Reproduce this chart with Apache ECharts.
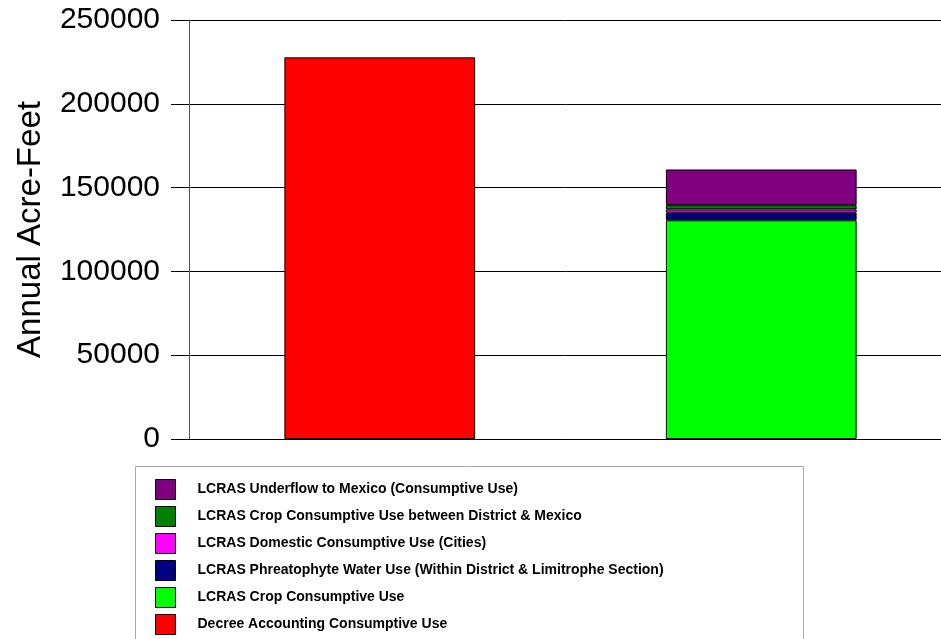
<!DOCTYPE html>
<html>
<head>
<meta charset="utf-8">
<script src="https://cdn.jsdelivr.net/npm/echarts@6/dist/echarts.min.js"></script>
<style>
  html, body { margin: 0; padding: 0; background: #fff; }
  #chart { width: 941px; height: 639px; }
</style>
</head>
<body>
<div id="chart"></div>
<script>
const categories = ['Decree Accounting', 'LCRAS'];
const yTicks = [0, 50000, 100000, 150000, 200000, 250000];

const seriesNames = [
  'LCRAS Underflow to Mexico (Consumptive Use)',
  'LCRAS Crop Consumptive Use between District & Mexico',
  'LCRAS Domestic Consumptive Use (Cities)',
  'LCRAS Phreatophyte Water Use (Within District & Limitrophe Section)',
  'LCRAS Crop Consumptive Use',
  'Decree Accounting Consumptive Use',
];
const seriesColors = ['#800080', '#008000', '#ff00ff', '#000080', '#00ff00', '#ff0000'];

// values per category [Decree, LCRAS]
const decree = [227700, null];
const cropUse = [null, 130500];
const phreatophyte = [null, 4500];
const domestic = [null, 2000];
const cropMexico = [null, 2500];
const underflow = [null, 21300];

const chart = echarts.init(document.getElementById('chart'));

// stacking order bottom -> top
const stackData = [
  [seriesNames[5], decree, seriesColors[5]],
  [seriesNames[4], cropUse, seriesColors[4]],
  [seriesNames[3], phreatophyte, seriesColors[3]],
  [seriesNames[2], domestic, seriesColors[2]],
  [seriesNames[1], cropMexico, seriesColors[1]],
  [seriesNames[0], underflow, seriesColors[0]],
];

const option = {
  animation: false,
  textStyle: { fontFamily: 'Liberation Sans, Arial, sans-serif' },
  grid: {
    left: 189, right: -11, top: 20, bottom: 200,
    containLabel: false, outerBoundsMode: 'none',
  },
  legend: {
    orient: 'vertical',
    left: 150,
    top: 474,
    height: 300,
    icon: 'rect',
    itemWidth: 20,
    itemHeight: 20,
    itemGap: 6,
    data: seriesNames,
    textStyle: {
      fontSize: 14,
      fontWeight: 'bold',
      color: '#000',
      lineHeight: 20,
      padding: [0, 0, 0, 17],
    },
    itemStyle: { borderColor: '#000', borderWidth: 1 },
  },
  graphic: [{
    type: 'rect',
    shape: { x: 135.5, y: 466.5, width: 668, height: 200 },
    style: { fill: 'none', stroke: '#aaa', lineWidth: 1 },
    z: -1,
  }],
  xAxis: {
    type: 'category',
    data: categories,
    axisLine: { lineStyle: { color: '#000', width: 1 } },
    axisTick: { alignWithLabel: true, length: 14, lineStyle: { color: '#000' } },
    axisLabel: { show: false },
  },
  yAxis: {
    type: 'value',
    min: 0,
    max: 250000,
    interval: 50000,
    name: 'Annual Acre-Feet',
    nameLocation: 'middle',
    nameGap: 142,
    nameTextStyle: { fontSize: 33, color: '#000' },
    axisLine: { show: true, lineStyle: { color: '#555', width: 1 } },
    axisTick: { show: true, length: 18, lineStyle: { color: '#000' } },
    axisLabel: {
      fontSize: 30, color: '#000', margin: 29,
      formatter: (v) => String(v),
    },
    splitLine: { lineStyle: { color: '#000', width: 1 } },
  },
  series: stackData.map(([name, data, color]) => ({
    name,
    type: 'bar',
    stack: 'total',
    barWidth: '50%',
    data,
    itemStyle: { color, borderColor: '#000', borderWidth: 1 },
  })),
};

chart.setOption(option);
</script>
</body>
</html>
